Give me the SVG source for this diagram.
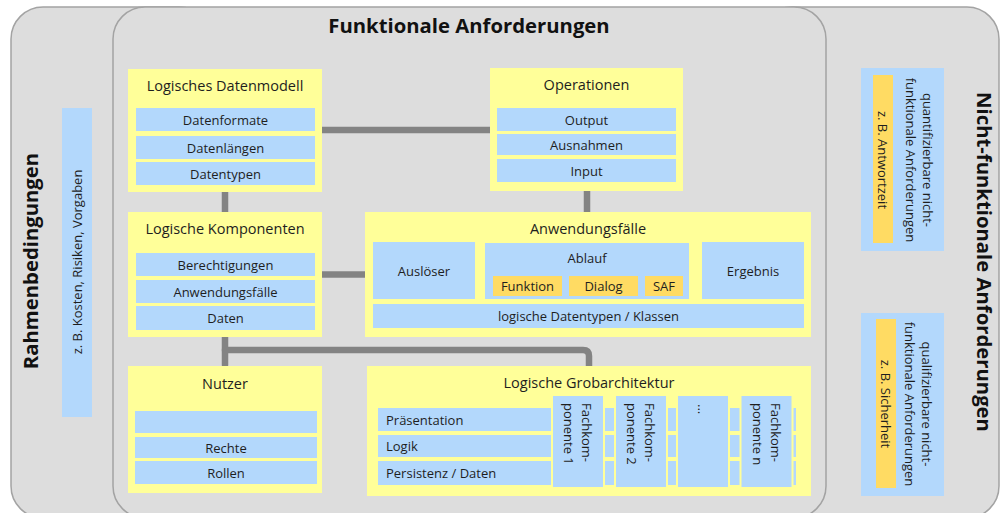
<svg xmlns="http://www.w3.org/2000/svg" width="1001" height="513" viewBox="0 0 1001 513">
<style>
  text { font-family: "Open Sans", "Noto Sans", "Liberation Sans", sans-serif; fill: #1e1e1e; }
  .panel { fill: #dddddd; stroke: #a3a3a3; stroke-width: 1.5; }
  .y { fill: #ffff99; }
  .b { fill: #b3d8fc; }
  .o { fill: #ffdb63; }
  .h { font-size: 20.3px; font-weight: bold; fill: #111; }
  .t { font-size: 14.5px; text-anchor: middle; }
  .r { font-size: 13px; text-anchor: middle; dominant-baseline: central; }
  .l { font-size: 13px; text-anchor: start; dominant-baseline: central; }
  .con { fill: none; stroke: #838383; stroke-width: 6.5; }
</style>

<g id="rahmenbedingungen">
  <rect class="panel" x="11" y="7" width="200" height="511" rx="32"/>
</g>
<g id="nichtfunktional">
  <rect class="panel" x="760" y="7" width="239" height="511" rx="32"/>
</g>
<g id="funktional">
  <rect class="panel" x="113" y="7" width="713" height="511" rx="32"/>
  <text class="h" x="469" y="33" text-anchor="middle">Funktionale Anforderungen</text>
</g>

<g id="rahmen-labels">
  <text class="h" transform="translate(30,261) rotate(-90)" text-anchor="middle" dominant-baseline="central">Rahmenbedingungen</text>
  <rect class="b" x="62" y="108" width="30" height="309"/>
  <text class="r" transform="translate(77,262) rotate(-90)">z. B. Kosten, Risiken, Vorgaben</text>
</g>

<g id="nf-labels">
  <text class="h" transform="translate(985,262) rotate(90)" text-anchor="middle" dominant-baseline="central">Nicht-funktionale Anforderungen</text>
</g>
<g id="quantifizierbar">
  <rect class="b" x="861" y="68" width="83" height="183"/>
  <rect class="o" x="873" y="75" width="20" height="168"/>
  <text class="r" transform="translate(883,160) rotate(90)">z. B. Antwortzeit</text>
  <text class="r" transform="translate(919.5,160) rotate(90)"><tspan x="0" y="-8.5">quantifizierbare nicht-</tspan><tspan x="0" y="8.5">funktionale Anforderungen</tspan></text>
</g>
<g id="qualifizierbar">
  <rect class="b" x="861" y="313" width="83" height="183"/>
  <rect class="o" x="876" y="319" width="20" height="169"/>
  <text class="r" transform="translate(886,404) rotate(90)">z. B. Sicherheit</text>
  <text class="r" transform="translate(918.5,404) rotate(90)"><tspan x="0" y="-8.5">qualifizierbare nicht-</tspan><tspan x="0" y="8.5">funktionale Anforderungen</tspan></text>
</g>

<g id="connectors">
  <line class="con" x1="322" y1="130" x2="490" y2="130"/>
  <line class="con" x1="225" y1="192" x2="225" y2="212"/>
  <line class="con" x1="587" y1="191" x2="587" y2="212"/>
  <line class="con" x1="322" y1="274.5" x2="365" y2="274.5"/>
  <line class="con" x1="225" y1="337" x2="225" y2="365" stroke-linecap="round"/>
  <path class="con" d="M225,350 H583 Q589,350 589,356 V366" stroke-linecap="round"/>
</g>

<g id="datenmodell">
  <rect class="y" x="128" y="69" width="194" height="123"/>
  <text class="t" x="225" y="91">Logisches Datenmodell</text>
  <rect class="b" x="136" y="108" width="179" height="23"/>
  <rect class="b" x="136" y="136" width="179" height="23"/>
  <rect class="b" x="136" y="162" width="179" height="23"/>
  <text class="r" x="225.5" y="119.5">Datenformate</text>
  <text class="r" x="225.5" y="147.5">Datenlängen</text>
  <text class="r" x="225.5" y="173.5">Datentypen</text>
</g>

<g id="operationen">
  <rect class="y" x="490" y="68" width="193" height="123"/>
  <text class="t" x="586.5" y="90">Operationen</text>
  <rect class="b" x="497" y="108" width="179" height="23"/>
  <rect class="b" x="497" y="134" width="179" height="21"/>
  <rect class="b" x="497" y="159" width="179" height="23"/>
  <text class="r" x="586.5" y="119.5">Output</text>
  <text class="r" x="586.5" y="144.5">Ausnahmen</text>
  <text class="r" x="586.5" y="170.5">Input</text>
</g>

<g id="komponenten">
  <rect class="y" x="128" y="212" width="194" height="125"/>
  <text class="t" x="225" y="234">Logische Komponenten</text>
  <rect class="b" x="136" y="253" width="179" height="23"/>
  <rect class="b" x="136" y="280" width="179" height="23"/>
  <rect class="b" x="136" y="306" width="179" height="24"/>
  <text class="r" x="225.5" y="264.5">Berechtigungen</text>
  <text class="r" x="225.5" y="291.5">Anwendungsfälle</text>
  <text class="r" x="225.5" y="318">Daten</text>
</g>

<g id="anwendungsfaelle">
  <rect class="y" x="365" y="212" width="446" height="125"/>
  <text class="t" x="588" y="234">Anwendungsfälle</text>
  <rect class="b" x="373" y="242" width="102" height="57"/>
  <text class="r" x="424" y="270.5">Auslöser</text>
  <rect class="b" x="485" y="243" width="204" height="56"/>
  <text class="r" x="587" y="258">Ablauf</text>
  <rect class="o" x="493" y="276" width="69" height="20"/>
  <rect class="o" x="569" y="276" width="69" height="20"/>
  <rect class="o" x="645" y="276" width="38" height="20"/>
  <text class="r" x="527.5" y="286">Funktion</text>
  <text class="r" x="603.5" y="286">Dialog</text>
  <text class="r" x="664" y="286">SAF</text>
  <rect class="b" x="702" y="242" width="102" height="57"/>
  <text class="r" x="753" y="270.5">Ergebnis</text>
  <rect class="b" x="373" y="304" width="431" height="24"/>
  <text class="r" x="588.5" y="316">logische Datentypen / Klassen</text>
</g>

<g id="nutzer">
  <rect class="y" x="128" y="366" width="194" height="127"/>
  <text class="t" x="225" y="389">Nutzer</text>
  <rect class="b" x="135" y="411" width="182" height="22"/>
  <rect class="b" x="135" y="437" width="182" height="21"/>
  <rect class="b" x="135" y="461" width="182" height="23"/>
  <text class="r" x="226" y="447.5">Rechte</text>
  <text class="r" x="226" y="472.5">Rollen</text>
</g>

<g id="grobarchitektur">
  <rect class="y" x="367" y="366" width="444" height="130"/>
  <text class="t" x="589" y="388">Logische Grobarchitektur</text>
  <rect class="b" x="378" y="408" width="418" height="23"/>
  <rect class="b" x="378" y="435" width="418" height="22"/>
  <rect class="b" x="378" y="461" width="418" height="24"/>
  <text class="l" x="386" y="419.5">Präsentation</text>
  <text class="l" x="386" y="446">Logik</text>
  <text class="l" x="386" y="473">Persistenz / Daten</text>
  <rect class="y" x="551" y="396" width="54" height="91"/>
  <rect class="y" x="614" y="396" width="54" height="91"/>
  <rect class="y" x="676" y="396" width="54" height="91"/>
  <rect class="y" x="739.5" y="396" width="54" height="91"/>
  <rect class="b" x="553" y="396" width="50" height="91"/>
  <rect class="b" x="616" y="396" width="50" height="91"/>
  <rect class="b" x="678" y="396" width="50" height="91"/>
  <rect class="b" x="741.5" y="396" width="50" height="91"/>
  <text class="l" transform="translate(578,403) rotate(90)"><tspan x="0" y="-9">Fachkom-</tspan><tspan x="0" y="9">ponente 1</tspan></text>
  <text class="l" transform="translate(641,403) rotate(90)"><tspan x="0" y="-9">Fachkom-</tspan><tspan x="0" y="9">ponente 2</tspan></text>
  <text class="l" font-size="13" transform="translate(698,404) rotate(90)" style="dominant-baseline:alphabetic">...</text>
  <text class="l" transform="translate(766.5,403) rotate(90)"><tspan x="0" y="-9">Fachkom-</tspan><tspan x="0" y="9">ponente n</tspan></text>
</g>
</svg>
